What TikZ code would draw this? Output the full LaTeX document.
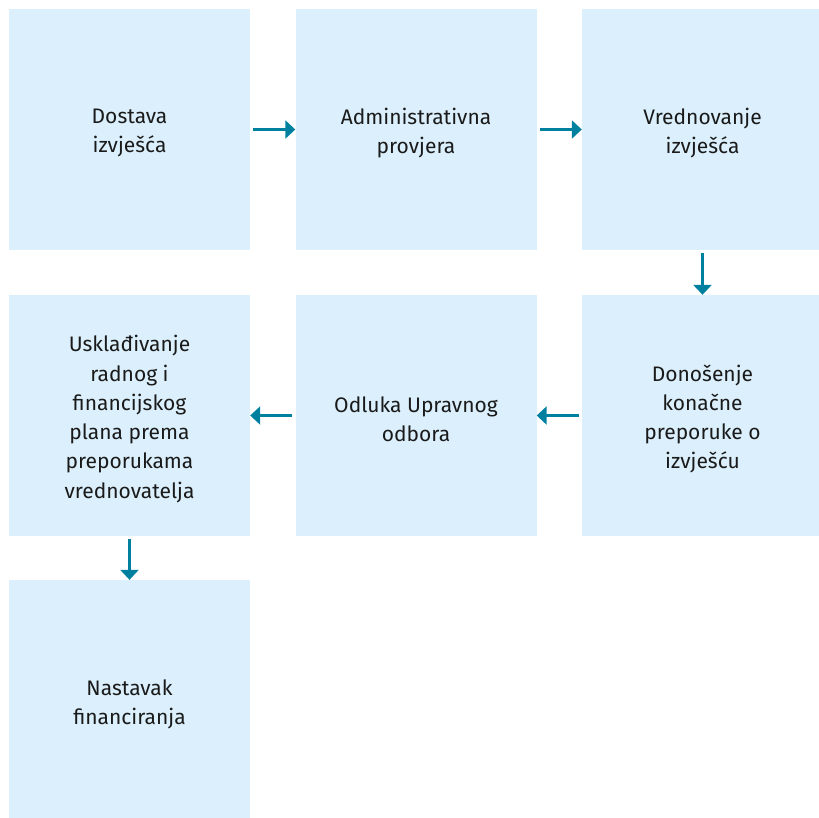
\documentclass[tikz,border=0pt]{standalone}
\usepackage{fontspec}
\setmainfont{Fira Sans}
\usetikzlibrary{arrows.meta}
\definecolor{boxfill}{HTML}{DBF0FC}
\definecolor{arrowc}{HTML}{00809F}
\definecolor{txt}{HTML}{1A1A1A}
\begin{document}
\begin{tikzpicture}[x=1pt,y=-1pt,
  stepbox/.style={fill=boxfill,draw=none,minimum width=241pt,minimum height=241pt,inner sep=0pt},
  steptext/.style={inner sep=0pt,align=center,text=txt,font=\fontsize{21}{29.3}\selectfont},
  conn/.style={draw=arrowc,line width=2.6pt,-{Triangle[length=10pt,width=18pt]},shorten <=3pt}]
\useasboundingbox (0,0) rectangle (819,817);
\node[stepbox] (b1) at (129.5,129.5) {};
\node[stepbox] (b2) at (416,129.5) {};
\node[stepbox] (b3) at (702.5,129.5) {};
\node[stepbox] (b6) at (702.5,415.5) {};
\node[stepbox] (b5) at (416,415.5) {};
\node[stepbox] (b4) at (129.5,415.5) {};
\node[stepbox] (b7) at (129.5,700.5) {};
\node[steptext] (t1) at ([yshift=-3.5pt]b1.center) {Dostava\\izvješća};
\node[steptext] (t2) at ([yshift=-3.5pt]b2.center) {Administrativna\\provjera};
\node[steptext] (t3) at ([yshift=-3.5pt]b3.center) {Vrednovanje\\izvješća};
\node[steptext] (t6) at ([yshift=-3.5pt]b6.center) {Donošenje\\konačne\\preporuke o\\izvješću};
\node[steptext] (t5) at ([yshift=-3.5pt]b5.center) {Odluka Upravnog\\odbora};
\node[steptext] (t4) at ([yshift=-3.5pt]b4.center) {Usklađivanje\\radnog i\\financijskog\\plana prema\\preporukama\\vrednovatelja};
\node[steptext] (t7) at ([yshift=-3.5pt]b7.center) {Nastavak\\financiranja};
\draw[conn] (b1) -- (b2);
\draw[conn] (b2) -- (b3);
\draw[conn] (b3) -- (b6);
\draw[conn] (b6) -- (b5);
\draw[conn] (b5) -- (b4);
\draw[conn] (b4) -- (b7);
\end{tikzpicture}
\end{document}
